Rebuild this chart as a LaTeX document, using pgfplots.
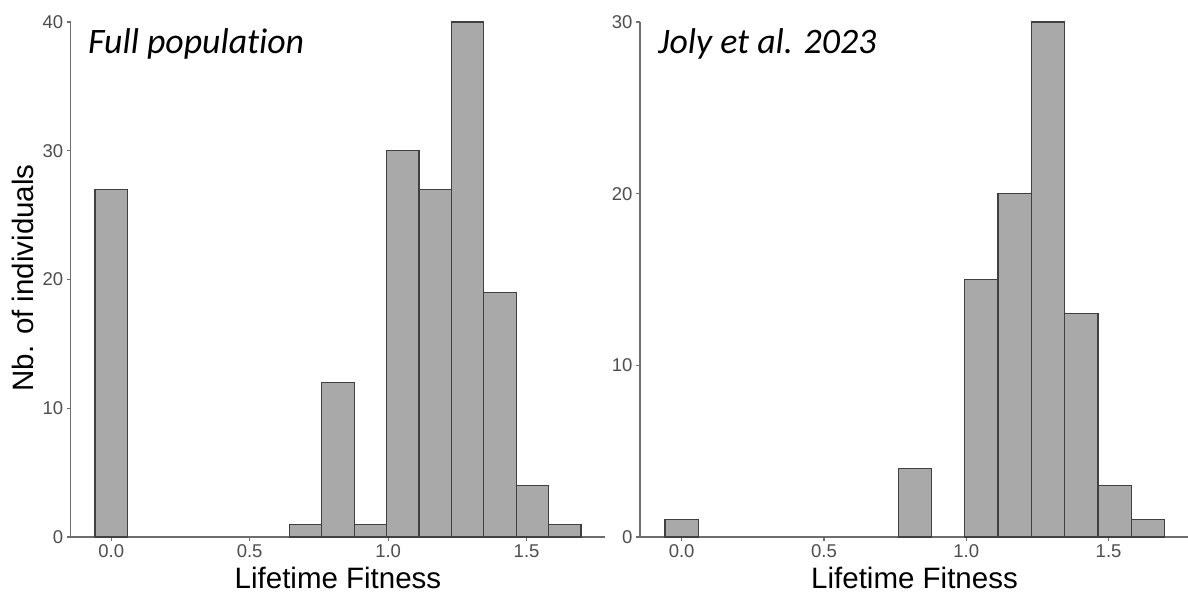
\documentclass[border=0pt]{standalone}
\usepackage{pgfplots}
\pgfplotsset{compat=1.18}
\usepackage{fontspec}
\setmainfont{Liberation Sans}
\newfontfamily\titlefont[Ligatures=NoCommon]{Carlito}
\definecolor{tickgray}{HTML}{4D4D4D}
\definecolor{barfill}{HTML}{A9A9A9}
\definecolor{baredge}{HTML}{404040}
\definecolor{axisgray}{HTML}{6E6E6E}
\pgfplotsset{
  hist/.style={
    scale only axis, height=515pt, ymin=0,
    xmin=-0.14625, xmax=1.78425,
    axis lines*=left,
    axis line style={axisgray, line width=1.2pt},
    tick align=outside, major tick length=4pt,
    tick style={axisgray, line width=1.2pt},
    xtick={0,0.5,1,1.5},
    xticklabels={0.0,0.5,1.0,1.5},
    ticklabel style={font=\fontsize{18.5}{20}\selectfont, text=tickgray},
    /pgf/number format/assume math mode=true,
    clip=false,
  },
  histbar/.style={ybar, bar width=0.117, bar shift=0pt, fill=barfill, draw=baredge, line width=1.2pt},
}
\begin{document}
\begin{tikzpicture}
\useasboundingbox (0,0) rectangle (1188pt,592pt);
% Left panel: Full population
\begin{axis}[hist, at={(70.7pt,55pt)}, anchor=south west, width=534.6pt,
  ymax=40, ytick={0,10,20,30,40}]
\addplot[histbar] coordinates {
 (0,27) (0.702,1) (0.819,12) (0.936,1) (1.053,30) (1.170,27) (1.287,40) (1.404,19) (1.521,4) (1.638,1)};
\end{axis}
% Right panel: Joly et al. 2023
\begin{axis}[hist, at={(640pt,55pt)}, anchor=south west, width=549.5pt,
  ymax=30, ytick={0,10,20,30}]
\addplot[histbar] coordinates {
 (0,1) (0.819,4) (1.053,15) (1.170,20) (1.287,30) (1.404,13) (1.521,3) (1.638,1)};
\end{axis}
% titles and axis labels
\node[anchor=base west, inner sep=0pt] at (88pt,538pt) {\titlefont\itshape\fontsize{35.8}{40}\selectfont Full population};
\node[anchor=base west, inner sep=0pt] at (658pt,538pt) {\titlefont\itshape\fontsize{35.8}{40}\selectfont Joly et al. 2023};
\node[anchor=base, inner sep=0pt] at (338pt,4pt) {\fontsize{29.5}{32}\selectfont Lifetime Fitness};
\node[anchor=base, inner sep=0pt] at (914.5pt,4pt) {\fontsize{29.5}{32}\selectfont Lifetime Fitness};
\node[anchor=base, rotate=90, inner sep=0pt] at (33.3pt,314pt) {\fontsize{29.5}{32}\selectfont Nb. of individuals};
\end{tikzpicture}
\end{document}
